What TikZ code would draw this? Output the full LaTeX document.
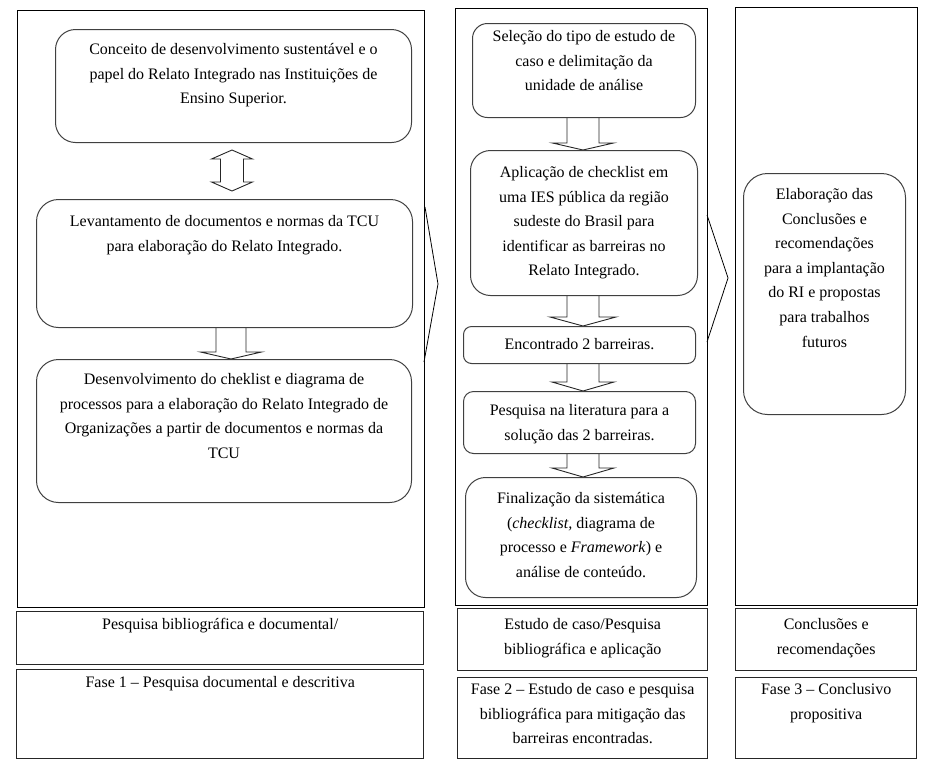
\documentclass[tikz,border=0pt]{standalone}
\usepackage{fontspec}
\setmainfont{Liberation Serif}
\usetikzlibrary{calc,backgrounds}
\tikzset{
 frame/.style={draw=black, line width=0.9pt, inner sep=0pt, anchor=north west},
 rbox/.style={draw=black!75, line width=1pt, inner sep=0pt, anchor=north west},
 lbox/.style={draw=black!85, line width=1.4pt, inner sep=0pt, anchor=north west},
 txt/.style={inner sep=0pt, anchor=north, align=center, font=\fontsize{16}{24.6}\selectfont},
 blockarr/.style={draw=black!85, line width=0.9pt, fill=white, line join=miter},
 chev/.style={draw=black, line width=0.8pt},
}
\newcommand\barr[6]{%
 \path[blockarr] let \p1=(#2.south), \p2=(#3.north) in
 (#1pt-#4pt,\y1) -- (#1pt-#4pt,\y2+#6pt) -- (#1pt-#5pt,\y2+#6pt) -- (#1pt,\y2)
 -- (#1pt+#5pt,\y2+#6pt) -- (#1pt+#4pt,\y2+#6pt) -- (#1pt+#4pt,\y1);}
\begin{document}
\begin{tikzpicture}[x=1pt,y=-1pt]
\useasboundingbox (0,0) rectangle (926,764);
% frames
\node[frame, minimum width=407pt, minimum height=597pt] (f1) at (17,10) {};
\node[frame, minimum width=252pt, minimum height=597pt] (f2) at (455,8) {};
\node[frame, minimum width=182pt, minimum height=598pt] (f3) at (735,7) {};
% chevrons
\coordinate (c1a) at (425,207);
\coordinate (c1b) at (438,284);
\coordinate (c1c) at (424,362);
\draw[chev] (c1a) -- (c1b) -- (c1c);
\coordinate (c2a) at (707,215);
\coordinate (c2b) at (728,278);
\coordinate (c2c) at (707,342);
\draw[chev] (c2a) -- (c2b) -- (c2c);
% left column boxes
\node[rbox, rounded corners=20pt, minimum width=356pt, minimum height=113pt] (b1) at (55,29) {};
\node[rbox, rounded corners=22pt, minimum width=376pt, minimum height=128pt] (b2) at (36,199) {};
\node[rbox, rounded corners=22pt, minimum width=375pt, minimum height=143pt] (b3) at (36,359) {};
% middle column boxes
\node[rbox, rounded corners=15pt, minimum width=223pt, minimum height=94pt] (m1) at (472,23) {};
\node[rbox, rounded corners=20pt, minimum width=227pt, minimum height=145pt] (m2) at (470,150) {};
\node[rbox, rounded corners=8pt, minimum width=232pt, minimum height=37pt] (m3) at (463,326) {};
\node[rbox, rounded corners=10pt, minimum width=232pt, minimum height=62pt] (m4) at (463,391) {};
\node[rbox, rounded corners=20pt, minimum width=231pt, minimum height=120pt] (m5) at (465,477) {};
% right column box
\node[rbox, rounded corners=24pt, minimum width=162pt, minimum height=241pt] (r1) at (743,173) {};
% bottom boxes
\node[lbox, minimum width=407pt, minimum height=53pt] (l1) at (16,611) {};
\node[lbox, minimum width=407pt, minimum height=89pt] (l2) at (16,669) {};
\node[lbox, minimum width=250pt, minimum height=62pt] (l3) at (457,608) {};
\node[lbox, minimum width=250pt, minimum height=81pt] (l4) at (457,677) {};
\node[lbox, minimum width=181pt, minimum height=62pt] (l5) at (735,608) {};
\node[lbox, minimum width=181pt, minimum height=81pt] (l6) at (735,677) {};
% block arrows
\begin{scope}[on background layer]
\path[blockarr] let \p1=(b1.south), \p2=(b2.north) in
 (232pt,\y1-7pt) -- (252.5pt,\y1-16pt) -- (243.5pt,\y1-16pt) -- (243.5pt,\y2+17pt)
 -- (252.5pt,\y2+17pt) -- (232pt,\y2+8pt) -- (211.5pt,\y2+17pt) -- (220.5pt,\y2+17pt)
 -- (220.5pt,\y1-16pt) -- (211.5pt,\y1-16pt) -- cycle;
\barr{231}{b2}{b3}{15}{30.5}{7}
\barr{583}{m1}{m2}{16}{30.5}{7}
\barr{583}{m2}{m3}{16}{33}{9}
\barr{583}{m3}{m4}{16}{31}{9}
\barr{583}{m4}{m5}{16}{31}{9}
\end{scope}
% texts
\node[txt] (b1t) at ([yshift=-8pt]b1.north) {\strut Conceito de desenvolvimento sustentável e o\\papel do Relato Integrado nas Instituições de\\Ensino Superior.};
\node[txt] (b2t) at ([yshift=-10pt]b2.north) {\strut Levantamento de documentos e normas da TCU\\para elaboração do Relato Integrado.};
\node[txt] (b3t) at ([yshift=-8pt]b3.north) {\strut Desenvolvimento do cheklist e diagrama de\\processos para a elaboração do Relato Integrado de\\Organizações a partir de documentos e normas da\\TCU};
\node[txt] (m1t) at ([yshift=-1pt]m1.north) {\strut Seleção do tipo de estudo de\\caso e delimitação da\\unidade de análise};
\node[txt] (m2t) at ([yshift=-10pt]m2.north) {\strut Aplicação de checklist em\\uma IES pública da região\\sudeste do Brasil para\\identificar as barreiras no\\Relato Integrado.};
\node[txt] (m3t) at ([yshift=-6pt]m3.north) {\strut Encontrado 2 barreiras.};
\node[txt] (m4t) at ([yshift=-7pt]m4.north) {\strut Pesquisa na literatura para a\\solução das 2 barreiras.};
\node[txt] (m5t) at ([yshift=-9pt]m5.north) {\strut Finalização da sistemática\\(\textit{checklist,} diagrama de\\processo e \textit{Framework}) e\\análise de conteúdo.};
\node[txt] (r1t) at ([yshift=-9pt]r1.north) {\strut Elaboração das\\Conclusões e\\recomendações\\para a implantação\\do RI e propostas\\para trabalhos\\futuros};
\node[txt] (l1t) at ([yshift=-1pt]l1.north) {\strut Pesquisa bibliográfica e documental/};
\node[txt] (l2t) at ([yshift=-1pt]l2.north) {\strut Fase 1 – Pesquisa documental e descritiva};
\node[txt] (l3t) at ([yshift=-4pt]l3.north) {\strut Estudo de caso/Pesquisa\\bibliográfica e aplicação};
\node[txt] (l4t) at ([yshift=0pt]l4.north) {\strut Fase 2 – Estudo de caso e pesquisa\\bibliográfica para mitigação das\\barreiras encontradas.};
\node[txt] (l5t) at ([yshift=-4pt]l5.north) {\strut Conclusões e\\recomendações};
\node[txt] (l6t) at ([yshift=0pt]l6.north) {\strut Fase 3 – Conclusivo\\propositiva};
\end{tikzpicture}
\end{document}
